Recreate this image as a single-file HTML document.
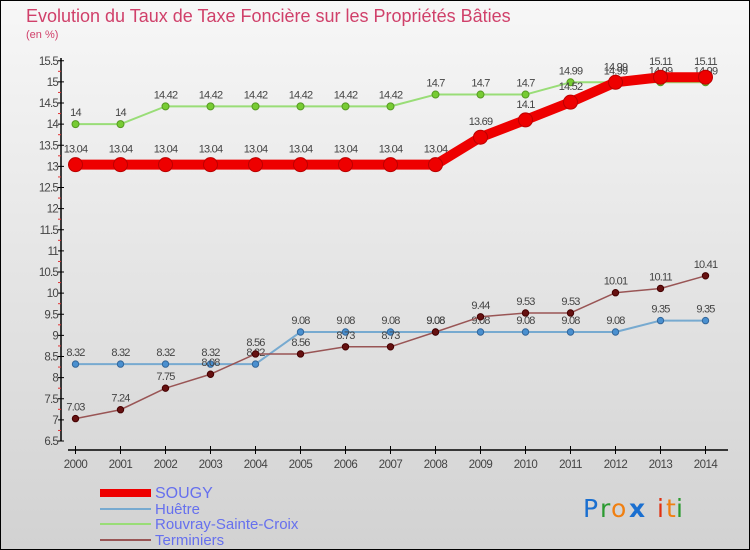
<!DOCTYPE html>
<html><head><meta charset="utf-8"><style>
body{margin:0}
#c{width:750px;height:550px;position:relative;overflow:hidden;font-family:"Liberation Sans",sans-serif}
</style></head><body>
<div id="c">
<svg id="s" width="750" height="550" xmlns="http://www.w3.org/2000/svg">
<defs><linearGradient id="bg" x1="0" y1="0" x2="0" y2="1"><stop offset="0" stop-color="#f7f7f7"/><stop offset="1" stop-color="#d2d2d2"/></linearGradient></defs>
<rect x="0.5" y="0.5" width="749" height="549" fill="url(#bg)" stroke="#000"/>
<text x="26" y="22" font-size="18" fill="#d0406a">Evolution du Taux de Taxe Foncière sur les Propriétés Bâties</text>
<text x="26" y="38" font-size="11" fill="#d0406a">(en %)</text>
<g id="axes"></g><g id="series"></g><g id="legend"></g>
<g font-size="25" font-family="'DejaVu Sans',sans-serif">
<text x="583" y="517" fill="#1a6fd0">P</text><text x="600" y="517" fill="#2a9a30">r</text><text x="611" y="517" fill="#f07f10">o</text><text x="629" y="517" fill="#1a6fd0" font-weight="bold">x</text><text x="657" y="517" fill="#e03010">i</text><text x="666" y="517" fill="#f07f10">t</text><text x="676" y="517" fill="#2a9a30">i</text>
</g>
</svg></div>
<script>
const years=[2000,2001,2002,2003,2004,2005,2006,2007,2008,2009,2010,2011,2012,2013,2014];
const sougy=[13.04,13.04,13.04,13.04,13.04,13.04,13.04,13.04,13.04,13.69,14.1,14.52,14.99,15.11,15.11];
const huetre=[8.32,8.32,8.32,8.32,8.32,9.08,9.08,9.08,9.08,9.08,9.08,9.08,9.08,9.35,9.35];
const rouvray=[14,14,14.42,14.42,14.42,14.42,14.42,14.42,14.7,14.7,14.7,14.99,14.99,14.99,14.99];
const terminiers=[7.03,7.24,7.75,8.08,8.56,8.56,8.73,8.73,9.08,9.44,9.53,9.53,10.01,10.11,10.41];
const yTicks=[6.5,7,7.5,8,8.5,9,9.5,10,10.5,11,11.5,12,12.5,13,13.5,14,14.5,15,15.5];
const NS="http://www.w3.org/2000/svg";
const X=i=>75.5+i*45, Y=v=>441-(v-6.5)*42.25;
function mk(tag,at,parent,txt){const e=document.createElementNS(NS,tag);for(const k in at)e.setAttribute(k,at[k]);if(txt!==undefined)e.textContent=txt;parent.appendChild(e);return e;}
const ax=document.getElementById('axes');
let yl=mk('line',{x1:61,y1:58,x2:61,y2:441,stroke:'#000','stroke-width':1.5},ax);


yTicks.forEach((v,k)=>{
 mk('line',{x1:58,x2:64,y1:Y(v),y2:Y(v),stroke:'#000'},ax);
 if(k<yTicks.length-1) mk('line',{x1:58,x2:61,y1:Y(v+0.25),y2:Y(v+0.25),stroke:'#e03030'},ax);
 let t=mk('text',{x:58,y:Y(v)+4,'font-size':11.5,fill:'#444','text-anchor':'end','letter-spacing':'-0.8'},ax,String(v));
 
 
});
let xl=mk('line',{x1:68,y1:450,x2:728,y2:450,stroke:'#000','stroke-width':1.5},ax);


years.forEach((y,i)=>{
 mk('line',{x1:X(i),x2:X(i),y1:446,y2:454,stroke:'#000'},ax);
 let t=mk('text',{x:X(i),y:468,'font-size':11.5,fill:'#444','text-anchor':'middle','letter-spacing':'-0.5'},ax,String(y));
 
 
});
const sg=document.getElementById('series');
function series(name,vals,color,w,r,dot,stroke,labOff){
 const g=mk('g',{},sg);
 
 
 mk('polyline',{points:vals.map((v,i)=>X(i)+','+Y(v)).join(' '),fill:'none',stroke:color,'stroke-width':w,'stroke-linejoin':'round'},g);
 vals.forEach((v,i)=>{
  let c=mk('circle',{cx:X(i),cy:Y(v),r:r,fill:dot,stroke:stroke,'stroke-width':1},g);
  
  
  mk('text',{x:X(i),y:Y(v)-labOff,'font-size':11,fill:'#444','text-anchor':'middle','letter-spacing':'-0.8'},g,String(v));
 });
}
series('rouvray',rouvray,'#99dd77',2,3.5,'#77cc33','#559922',8);
series('huetre',huetre,'#77aad0',2,3.2,'#4a90d0','#336699',8);
series('terminiers',terminiers,'#995555',1.5,3.2,'#661111','#440000',8);
series('sougy',sougy,'#ee0000',10,7,'#ee0000','#bb0000',12);
const lg=document.getElementById('legend');
const leg=[['SOUGY','#ee0000',8,492,16],['Huêtre','#77aad0',2,508,15],['Rouvray-Sainte-Croix','#99dd77',2,523,15],['Terminiers','#995555',2,539,15]];
leg.forEach(l=>{
 const g=mk('g',{},lg);
 
 
 mk('line',{x1:100,x2:151,y1:l[3]+1,y2:l[3]+1,stroke:l[1],'stroke-width':l[2]},g);
 mk('text',{x:155,y:l[3]+6,'font-size':l[4],fill:'#6670ee'},g,l[0]);
});
</script>
</body></html>
